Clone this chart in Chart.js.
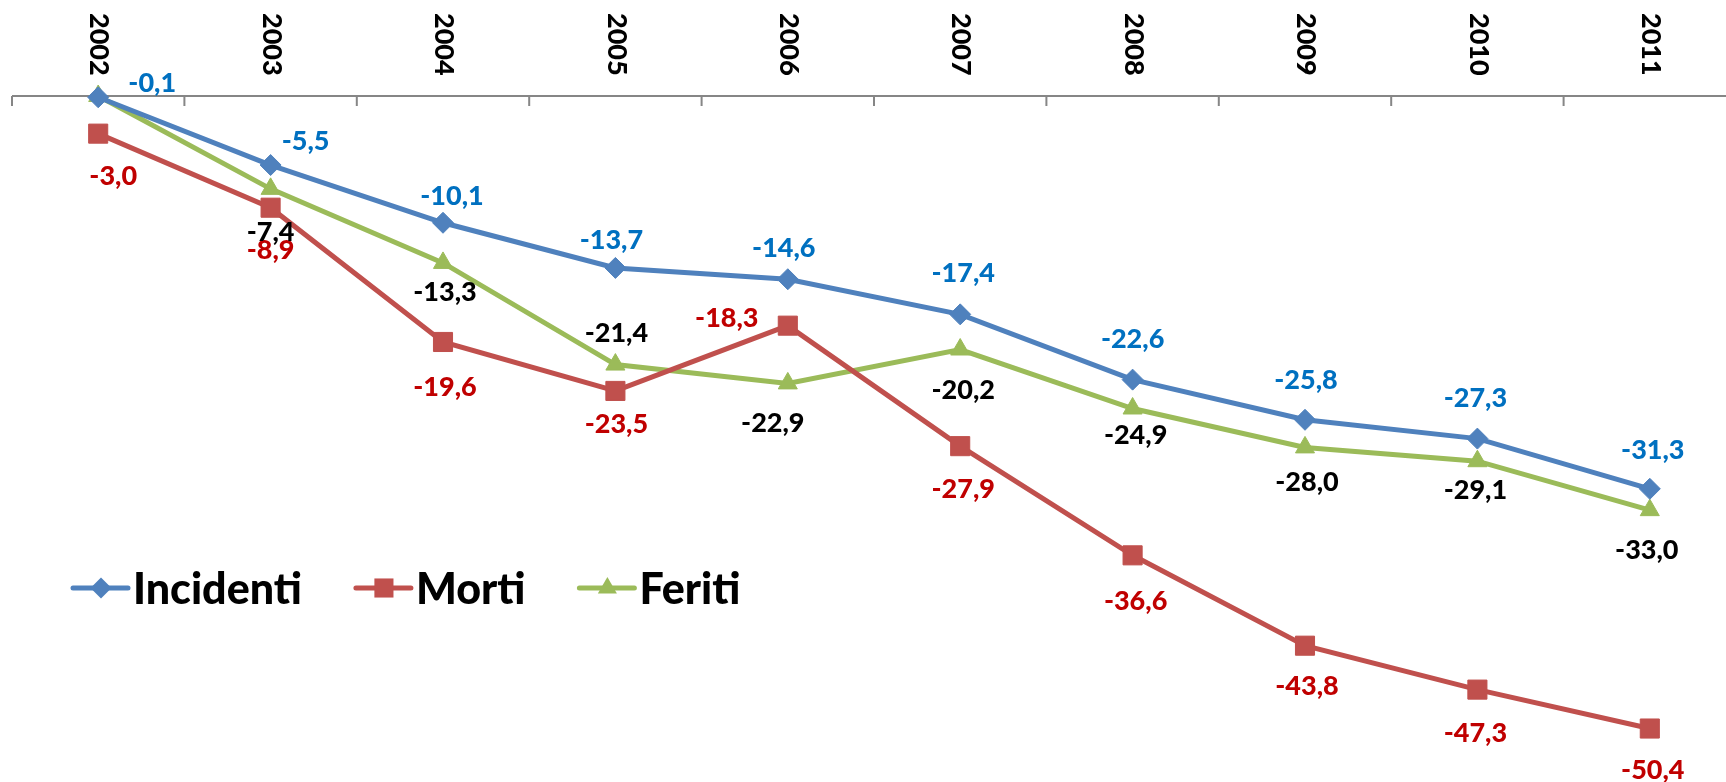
<!DOCTYPE html>
<html lang="it">
<head>
  <meta charset="UTF-8">
  <title>Incidenti, morti e feriti 2002-2011</title>
  <script src="https://cdn.jsdelivr.net/npm/chart.js@4.4.0/dist/chart.umd.min.js"></script>
  <style>
    html, body { margin: 0; padding: 0; background: #fff; overflow: hidden; }
    .wrap { width: 1726px; height: 782px; overflow: hidden; position: relative; }
    canvas { display: block; }
  </style>
</head>
<body>
  <div class="wrap"><canvas id="grafico" width="1740" height="849"></canvas></div>

  <script>
    // dati (variazione % rispetto al 2001)
    const anni = ['2002', '2003', '2004', '2005', '2006', '2007', '2008', '2009', '2010', '2011'];
    const incidenti = [-0.1, -5.5, -10.1, -13.7, -14.6, -17.4, -22.6, -25.8, -27.3, -31.3];
    const morti = [-3.0, -8.9, -19.6, -23.5, -18.3, -27.9, -36.6, -43.8, -47.3, -50.4];
    const feriti = [0.0, -7.4, -13.3, -21.4, -22.9, -20.2, -24.9, -28.0, -29.1, -33.0];

    // spostamento delle etichette rispetto al punto (px), null = nessuna etichetta
    const posEtichette = [
      [[54, -14], [35, -24], [9, -26], [-4, -28], [-4, -31], [3, -41], [0, -40], [1, -39], [-2, -40], [3, -39]],
      [[15, 43], [0, 43], [2, 45], [1, 33], [-61, -7], [3, 43], [3, 46], [2, 41], [-2, 44], [3, 42]],
      [null, [0, 43], [2, 29], [1, -31], [-15, 40], [3, 41], [3, 27], [2, 35], [-2, 29], [-3, 40]]
    ];
    const coloriEtichette = ['#0070C0', '#C00000', '#000000'];
    const FONT = 'Lato, "Open Sans", sans-serif';

    const fmt = v => v.toFixed(1).replace('.', ',');

    function marker(ctx, stile, x, y, r, colore) {
      ctx.save();
      ctx.fillStyle = colore;
      ctx.beginPath();
      if (stile === 'rectRot') {
        ctx.moveTo(x - r, y); ctx.lineTo(x, y - r); ctx.lineTo(x + r, y); ctx.lineTo(x, y + r);
      } else if (stile === 'rect') {
        const s = r * Math.SQRT1_2;
        ctx.rect(x - s, y - s, 2 * s, 2 * s);
      } else {
        const a = 2 * Math.PI / 3;
        ctx.moveTo(x, y - r);
        ctx.lineTo(x + Math.sin(a) * r, y - Math.cos(a) * r);
        ctx.lineTo(x + Math.sin(2 * a) * r, y - Math.cos(2 * a) * r);
      }
      ctx.closePath();
      ctx.fill();
      ctx.restore();
    }

    // asse orizzontale sullo zero con le tacche e gli anni ruotati
    const asse = {
      id: 'asse',
      beforeDatasetsDraw(chart) {
        const ctx = chart.ctx, x = chart.scales.x, y = chart.scales.y;
        const y0 = y.getPixelForValue(0);
        const passo = x.getPixelForValue(1) - x.getPixelForValue(0);
        ctx.save();
        ctx.strokeStyle = '#868686';
        ctx.lineWidth = 2;
        ctx.beginPath();
        ctx.moveTo(chart.chartArea.left, y0);
        ctx.lineTo(chart.chartArea.right, y0);
        for (let i = 0; i < anni.length; i++) {
          const xt = x.getPixelForValue(i) - passo / 2;
          ctx.moveTo(xt, y0);
          ctx.lineTo(xt, y0 + 10);
        }
        ctx.stroke();

        ctx.fillStyle = '#000';
        ctx.font = '900 27px ' + FONT;
        ctx.textAlign = 'left';
        ctx.textBaseline = 'middle';
        anni.forEach((a, i) => {
          ctx.save();
          ctx.translate(x.getPixelForValue(i) + 1, 13);
          ctx.rotate(Math.PI / 2);
          ctx.fillText(a, 0, 0);
          ctx.restore();
        });
        ctx.restore();
      },
      afterDatasetsDraw(chart) {
        const ctx = chart.ctx;
        ctx.save();
        // etichette dei valori
        ctx.font = '900 27px ' + FONT;
        ctx.textAlign = 'center';
        ctx.textBaseline = 'middle';
        chart.data.datasets.forEach((ds, d) => {
          const meta = chart.getDatasetMeta(d);
          meta.data.forEach((pt, i) => {
            const off = posEtichette[d][i];
            if (!off) return;
            ctx.fillStyle = coloriEtichette[d];
            ctx.fillText(fmt(ds.data[i]), pt.x + off[0], pt.y + off[1]);
          });
        });

        // legenda
        ctx.font = '900 43px ' + FONT;
        ctx.textAlign = 'left';
        let lx = 73;
        const ly = 588;
        chart.data.datasets.forEach(ds => {
          ctx.strokeStyle = ds.borderColor;
          ctx.lineWidth = 5;
          ctx.lineCap = 'round';
          ctx.beginPath();
          ctx.moveTo(lx, ly);
          ctx.lineTo(lx + 55, ly);
          ctx.stroke();
          marker(ctx, ds.pointStyle, lx + 28, ly, ds.pointRadius, ds.pointBackgroundColor);
          ctx.fillStyle = '#000';
          ctx.fillText(ds.label, lx + 60, ly + 2);
          lx += 60 + ctx.measureText(ds.label).width + 54;
        });
        ctx.restore();
      }
    };

    const ctx = document.getElementById('grafico').getContext('2d');
    const grafico = new Chart(ctx, {
      type: 'line',
      data: {
        labels: anni,
        datasets: [{
          label: 'Incidenti',
          data: incidenti,
          borderColor: '#4F81BD',
          pointBackgroundColor: '#4F81BD',
          pointBorderColor: '#4F81BD',
          pointStyle: 'rectRot',
          pointRadius: 10.5
        }, {
          label: 'Morti',
          data: morti,
          borderColor: '#C0504D',
          pointBackgroundColor: '#C0504D',
          pointBorderColor: '#C0504D',
          pointStyle: 'rect',
          pointRadius: 13.5
        }, {
          label: 'Feriti',
          data: feriti,
          borderColor: '#9BBB59',
          pointBackgroundColor: '#9BBB59',
          pointBorderColor: '#9BBB59',
          pointStyle: 'triangle',
          pointRadius: 11
        }]
      },
      options: {
        responsive: false,
        animation: false,
        devicePixelRatio: 1,
        datasets: {
          line: { borderWidth: 5, pointBorderWidth: 1, tension: 0, clip: false, fill: false }
        },
        layout: { autoPadding: false, padding: { top: 96, left: 12, right: 4, bottom: 0 } },
        scales: {
          x: { type: 'category', offset: true, display: false },
          y: { min: -60, max: 0, display: false }
        },
        plugins: {
          legend: { display: false },
          tooltip: { enabled: false }
        }
      },
      plugins: [asse]
    });
  </script>
</body>
</html>
